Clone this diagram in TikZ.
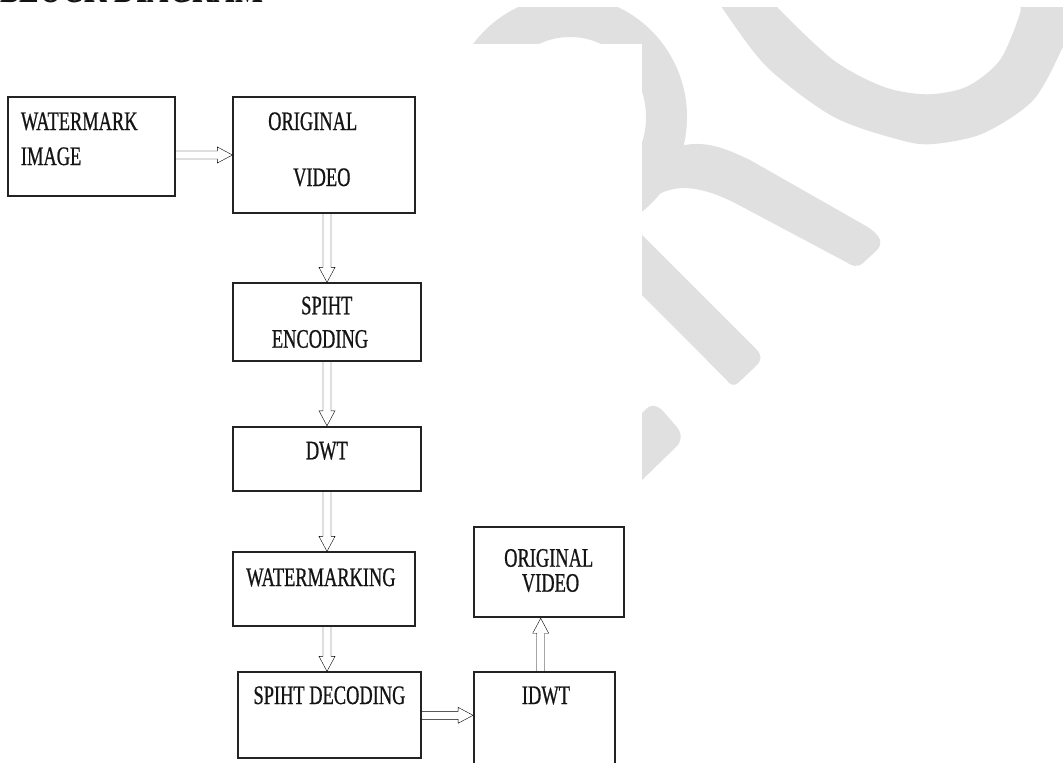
\documentclass[tikz,border=0pt]{standalone}
\usepackage{fontspec}
\newfontfamily\dfont[FakeStretch=0.69,FakeBold=0.7]{Liberation Serif}
\newfontfamily\hfont[FakeStretch=0.69]{Liberation Serif}
\usetikzlibrary{calc}
\definecolor{logogray}{RGB}{224,224,224}
\definecolor{boxline}{RGB}{35,35,35}
\definecolor{arrline}{RGB}{80,80,80}
\definecolor{txt}{RGB}{20,20,20}
\tikzset{
  box/.style={draw=boxline, line width=1.9pt, inner sep=0pt},
  lbl/.style={anchor=base west, inner sep=0pt, font=\dfont\fontsize{26.7}{30}\selectfont, text=txt},
  blockarrow/.style={draw=arrline, line width=1pt, line join=miter, to path={
    let \p1=(\tikztostart), \p2=(\tikztotarget), \n1={atan2(\y2-\y1,\x2-\x1)} in
    ($(\p1)+(\n1+90:4pt)$) -- ($(\p2)+(\n1+180:15pt)+(\n1+90:4pt)$)
    -- ($(\p2)+(\n1+180:15pt)+(\n1+90:8pt)$) -- (\p2)
    -- ($(\p2)+(\n1+180:15pt)+(\n1-90:8pt)$) -- ($(\p2)+(\n1+180:15pt)+(\n1-90:4pt)$)
    -- ($(\p1)+(\n1-90:4pt)$)}},
  logo/.style={fill=logogray, draw=none}
}
\begin{document}
\begin{tikzpicture}[x=1pt,y=-1pt]
\useasboundingbox (0,0) rectangle (1063,763);
\clip (0,0) rectangle (1063,763);
\fill[white] (0,0) rectangle (1063,763);
% background logo
\fill[logo, even odd rule] (568,117) ellipse [x radius=119pt, y radius=121pt]
                           (570,117) ellipse [x radius=76pt, y radius=80pt];
\fill[logo] (620,150) -- (680,146) .. controls (705,140) and (725,148) .. (750,160)
  -- (866,226) .. controls (882,236) and (884,244) .. (875,252)
  -- (863,263) .. controls (857,268) and (852,266) .. (846,262)
  -- (735,203) .. controls (705,188) and (675,180) .. (650,200)
  -- (620,230) -- cycle;
\fill[logo] (600,193) -- (756,349) .. controls (762,355) and (762,360) .. (756,366)
  -- (738,383) .. controls (733,387) and (729,384) .. (726.7,380) -- (600,253) -- cycle;
\fill[logo] (600,455) -- (646,409) .. controls (652,404) and (656,405) .. (662,410)
  -- (676,426) .. controls (682,433) and (682,439) .. (678,445) -- (600,521) -- cycle;
\fill[logo] plot[smooth] coordinates {(712,-8) (721.7,7.3) (766.7,66.7) (833.3,116.7) (900,140) (933.3,144) (983.3,133.3) (1033.3,100) (1063,46.7) (1075,15)}
  -- (1075,-8) -- (1021,-8)
  -- plot[smooth] coordinates {(1018,3) (1020,13.3) (1000,60) (966.7,86.7) (926.7,94.3) (883.3,86.7) (833.3,60) (777.3,7.3) (768,-8)} -- cycle;
\fill[white] (0,0) rectangle (1063,7.3);
\fill[white] (0,44.3) rectangle (641.7,763);
% heading (cut off at the top)
\node[anchor=base west, inner sep=0pt, font=\hfont\bfseries\fontsize{43}{45}\selectfont, text=txt] (title) at (0,2.5) {BLOCK DIAGRAM};
% boxes
\node[box, minimum width=166.4pt, minimum height=98.7pt] (wm) at (91.5,146.7) {};
\node[box, minimum width=181.7pt, minimum height=115.4pt] (ov) at (324.2,155) {};
\node[box, minimum width=188pt, minimum height=77.7pt] (enc) at (327,322.2) {};
\node[box, minimum width=188pt, minimum height=64.3pt] (dwt) at (327,458.9) {};
\node[box, minimum width=182pt, minimum height=73.7pt] (wmk) at (324,589.2) {};
\node[box, minimum width=183pt, minimum height=86pt] (dec) at (329.2,715.3) {};
\node[box, minimum width=141pt, minimum height=117.7pt] (idwt) at (544.5,731.2) {};
\node[box, minimum width=150pt, minimum height=90pt] (out) at (549,572.3) {};
% labels
\node[lbl] (t1) at (20.7,130) {WATERMARK};
\node[lbl] (t2) at (20.7,165) {IMAGE};
\node[lbl] (t3) at (268,130) {ORIGINAL};
\node[lbl] (t4) at (293,186) {VIDEO};
\node[lbl] (t5) at (301,314.3) {SPIHT};
\node[lbl] (t6) at (271.7,347.7) {ENCODING};
\node[lbl] (t7) at (305.7,459.3) {DWT};
\node[lbl] (t8) at (246,586) {WATERMARKING};
\node[lbl] (t9) at (253.3,704) {SPIHT DECODING};
\node[lbl] (t10) at (521.7,704) {IDWT};
\node[lbl] (t11) at (504,566.7) {ORIGINAL};
\node[lbl] (t12) at (521.7,591.7) {VIDEO};
% connectors
\coordinate (up1) at ([xshift=-3.8pt]idwt.north);
\draw (wm.east |- ov.west) to[blockarrow] (ov.west);
\draw (enc.north |- ov.south) to[blockarrow] (enc.north);
\draw (enc.south) to[blockarrow] (dwt.north);
\draw (dwt.south) to[blockarrow] (dwt.south |- wmk.north);
\draw (dwt.south |- wmk.south) to[blockarrow] (dwt.south |- dec.north);
\draw (dec.east) to[blockarrow] (idwt.west |- dec.east);
\draw (up1) to[blockarrow] (up1 |- out.south);
\end{tikzpicture}
\end{document}
